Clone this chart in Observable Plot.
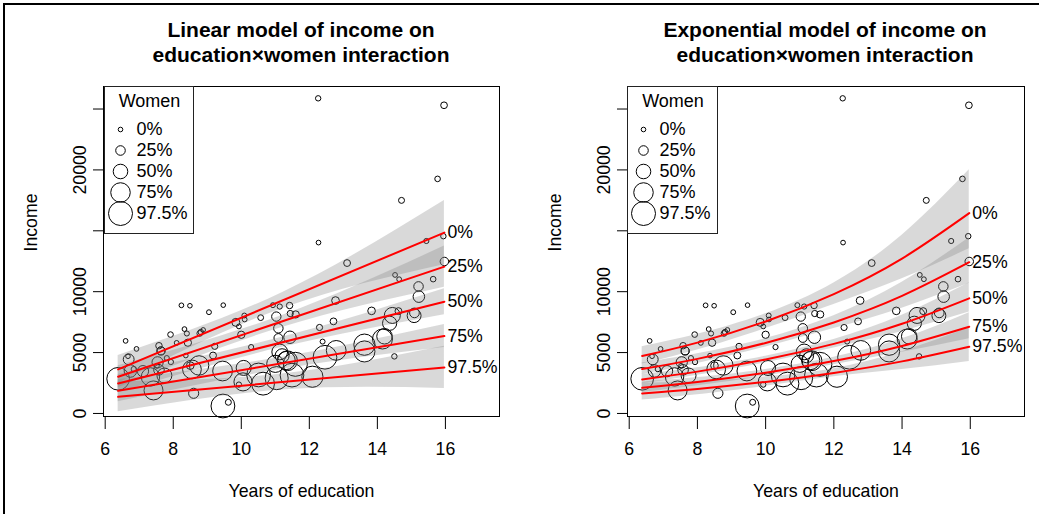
<!DOCTYPE html>
<html><head><meta charset="utf-8">
<script src="https://cdn.jsdelivr.net/npm/d3@7"></script>
<script src="https://cdn.jsdelivr.net/npm/@observablehq/plot@0.6"></script>
<style>
body{margin:0;background:#fff;font-family:"Liberation Sans",Arial,Helvetica,sans-serif;}
#wrap{position:relative;width:1039px;height:514px;overflow:hidden;background:#fff;}
.panel{position:absolute;top:0;}
.title{position:absolute;top:17px;transform:translateX(-50%);text-align:center;font-weight:bold;font-size:21px;line-height:25px;white-space:nowrap;color:#000;}
.legend{position:absolute;top:86px;border:1px solid #222;background:#fff;box-sizing:border-box;}
#edge{position:absolute;left:3px;top:3px;width:1040px;height:520px;border-top:2px solid #000;border-left:2px solid #000;}
</style></head><body>
<div id="wrap">
  <div id="edge"></div>
  <div class="panel" id="p1" style="left:0px"></div>
  <div class="panel" id="p2" style="left:520px"></div>
  <div class="title" id="t1" style="left:301px"></div>
  <div class="title" id="t2" style="left:825px"></div>
  <div class="legend" id="l1" style="left:104px;width:90px;height:148px"></div>
  <div class="legend" id="l2" style="left:627px;width:91px;height:148px"></div>
</div>
<script>
// Prestige occupations: years of education, income, % women
const education = [13.11,12.26,12.77,11.42,14.62,15.64,15.09,15.44,14.52,14.64,
  12.39,12.30,13.83,14.44,14.36,14.21,15.77,14.15,15.22,14.50,
  15.97,13.62,15.08,15.96,15.94,14.71,12.46,9.45,13.62,15.21,
  12.79,11.09,12.71,11.44,11.59,11.49,11.32,10.64,11.36,9.17,
  12.09,11.04,9.22,10.07,10.51,11.20,11.13,11.43,11.00,9.84,
  11.13,10.05,9.62,9.93,11.60,11.09,11.03,9.47,10.93,7.74,
  8.50,10.57,9.46,7.33,7.11,7.58,6.84,8.60,8.88,7.54,
  7.64,7.64,7.42,6.69,6.74,10.09,8.81,8.40,7.92,8.43,
  8.78,8.76,10.29,6.38,8.10,10.10,6.67,9.05,9.93,8.24,
  6.92,6.60,7.81,8.33,7.52,12.27,8.49,7.58,7.93,8.37,
  10.00,8.55];
const income = [12351,25879,9271,8865,8403,11030,8258,14163,11377,11023,
  5902,7059,8425,8049,7405,6336,19263,6112,9593,4686,
  12480,5648,8034,25308,14558,17498,4614,3485,5092,10432,
  5180,6197,7562,8206,4036,3148,4348,2448,4330,4761,
  3016,2901,5511,3739,3161,4741,5052,6259,4075,7482,
  8780,2594,918,2370,8131,6992,7956,8895,8891,3116,
  3930,7869,611,3000,3472,3582,3643,1656,6860,4199,
  5134,5134,1890,4443,3485,8043,6686,6565,6477,5811,
  6573,3942,5449,2847,5795,7716,4696,8316,7147,8880,
  5299,5959,4549,6928,3910,14032,8845,5562,4224,4753,
  6462,3617];
const women = [11.16,4.02,15.70,9.11,11.68,5.13,25.65,2.69,1.03,0.94,
  1.91,7.83,15.33,57.31,48.28,54.77,5.13,77.10,34.89,4.14,
  19.59,83.78,46.80,10.56,4.32,6.91,96.12,76.14,82.66,24.71,
  76.04,21.03,11.15,8.13,97.51,95.97,68.24,91.76,75.92,11.37,
  83.19,92.86,7.62,52.27,96.14,47.06,56.10,39.17,63.23,17.04,
  3.16,67.82,7.00,3.69,13.09,24.44,23.88,0.00,1.65,52.00,
  15.51,6.01,96.53,69.31,33.57,30.08,3.60,27.75,0.00,33.30,
  17.26,17.26,72.24,31.36,39.48,1.50,4.28,2.30,5.17,13.62,
  5.78,74.54,2.92,90.67,0.81,0.78,0.00,1.34,0.99,0.65,
  0.56,0.52,2.46,0.61,1.09,0.58,0.00,9.47,3.59,0.00,
  13.58,70.87];

// Women levels (legend and fitted lines)
const levels = ["0%","25%","50%","75%","97.5%"];
const levelWomen = [0,25,50,75,97.5];

// Linear model: fitted lines at education ends
const linEdu = [6.38, 15.97];
const linFit = [[3618,14852],[3010,12056],[2467,9178],[1859,6357],[1365,3783]];
const linBandEdu = [6.38, 11.2, 15.97];
const linLo = [[2467,8606,12220],[2105,7064,10370],[1727,5429,8109],[954,3627,5411],[131,1922,2056]];
const linHi = [[4769,9922,17484],[3915,8050,13742],[3207,6251,10247],[2764,4613,7303],[2599,3238,5510]];

// Exponential model: fitted curves and bands
const expEdu = [6.38, 8, 10, 12, 14, 15.97];
const expFit = [[4712,5819,7553,9800,12718,16447],[3643,4482,5788,7475,9654,12418],[2796,3435,4429,5712,7365,9457],[2105,2586,3334,4301,5545,7122],[1645,2016,2590,3329,4277,5477]];
const expLo = [[4056,5213,6972,8956,11056,13520],[3199,4096,5451,6970,8648,10689],[2431,3139,4171,5380,6731,8329],[1723,2271,3078,4010,5017,6130],[1103,1539,2229,3012,3608,4266]];
const expHi = [[5474,6496,8182,10723,14630,20008],[4149,4904,6146,8017,10777,14427],[3216,3759,4703,6065,8059,10737],[2571,2945,3612,4613,6128,8274],[2454,2641,3009,3679,5070,7032]];

// Axes
const xTicks = [6,8,10,12,14,16];
const yTicks = [0,5000,10000,15000,20000,25000];
const yTickLabels = ["0","5000","10000","","20000",""];
const xDomain = [5.95, 17.59];
const yDomain = [-250, 26850];
const titles = ["Linear model of income on\neducation×women interaction", "Exponential model of income on\neducation×women interaction"];
const xLabel = "Years of education";
const yLabel = "Income";
const legendTitle = "Women";

const rScale = {type:"linear", domain:[0,97.5], range:[2.3,12]};
const FONT = "'Liberation Sans', Arial, Helvetica, sans-serif";
const FS = 17.7;

const pts = education.map((e,i)=>({edu:e, inc:income[i], women:women[i]}));
function lineRows(xs, fit){ return levels.flatMap((lv,i)=>xs.map((x,j)=>({level:lv, x, y:fit[i][j]}))); }
function bandRows(xs, lo, hi){ return levels.flatMap((lv,i)=>xs.map((x,j)=>({level:lv, x, lo:lo[i][j], hi:hi[i][j]}))); }
function endRows(xs, fit){ return levels.map((lv,i)=>({level:lv, x:xs[xs.length-1], y:fit[i][fit[i].length-1]})); }

function panel({width, marginLeft, marginRight, lines, bands, ends, curve}) {
  return Plot.plot({
    width, height:514, marginTop:86, marginBottom:98, marginLeft, marginRight,
    x:{domain:xDomain}, y:{domain:yDomain}, r:rScale,
    style:{fontFamily:FONT, fontSize:FS+"px", background:"transparent", color:"black", overflow:"visible"},
    marks:[
      Plot.dot(pts, {x:"edu", y:"inc", r:"women", stroke:"black", strokeWidth:1, fill:"none"}),
      Plot.areaY(bands, {x:"x", y1:"lo", y2:"hi", z:"level", fill:"#808080", fillOpacity:0.3, curve}),
      Plot.line(lines, {x:"x", y:"y", z:"level", stroke:"#ff0000", strokeWidth:2, curve}),
      Plot.text(ends, {x:"x", y:"y", text:"level", textAnchor:"start", dx:3, fontSize:FS}),
      Plot.frame({stroke:"black", strokeWidth:1}),
      Plot.axisX({ticks:xTicks, tickFormat:d=>String(d), tickSize:13, tickPadding:13, label:null, fontSize:FS}),
      Plot.axisY({ticks:yTicks, tickFormat:(d)=>yTickLabels[yTicks.indexOf(d)], tickRotate:-90, tickSize:10, tickPadding:8, label:null, fontSize:FS}),
      Plot.text([xLabel], {text:d=>d, frameAnchor:"bottom", dy:80, fontSize:FS}),
      Plot.text([yLabel], {text:d=>d, frameAnchor:"left", rotate:-90, dx:-72, fontSize:FS})
    ]
  });
}

function legend(width) {
  const rows = levels.map((lv,i)=>({label:lv, women:levelWomen[i]}));
  return Plot.plot({
    width, height:146, margin:0,
    y:{type:"point", domain:levels, range:[42,126], padding:0, axis:null},
    r:rScale,
    style:{fontFamily:FONT, fontSize:"18px", background:"white", color:"black"},
    marks:[
      Plot.text([legendTitle], {text:d=>d, frameAnchor:"top", lineAnchor:"middle", dy:14, fontSize:18}),
      Plot.dot(rows, {y:"label", r:"women", frameAnchor:"left", dx:15, stroke:"black", strokeWidth:1}),
      Plot.text(rows, {y:"label", text:"label", frameAnchor:"left", dx:31, textAnchor:"start", fontSize:18})
    ]
  });
}

document.getElementById("p1").append(panel({
  width:520, marginLeft:103, marginRight:21,
  lines:lineRows(linEdu, linFit), bands:bandRows(linBandEdu, linLo, linHi), ends:endRows(linEdu, linFit), curve:"natural"
}));
document.getElementById("p2").append(panel({
  width:519, marginLeft:107, marginRight:15,
  lines:lineRows(expEdu, expFit), bands:bandRows(expEdu, expLo, expHi), ends:endRows(expEdu, expFit), curve:"natural"
}));
document.getElementById("l1").append(legend(88));
document.getElementById("l2").append(legend(89));
document.getElementById("t1").innerText = titles[0];
document.getElementById("t2").innerText = titles[1];
</script>
</body></html>
